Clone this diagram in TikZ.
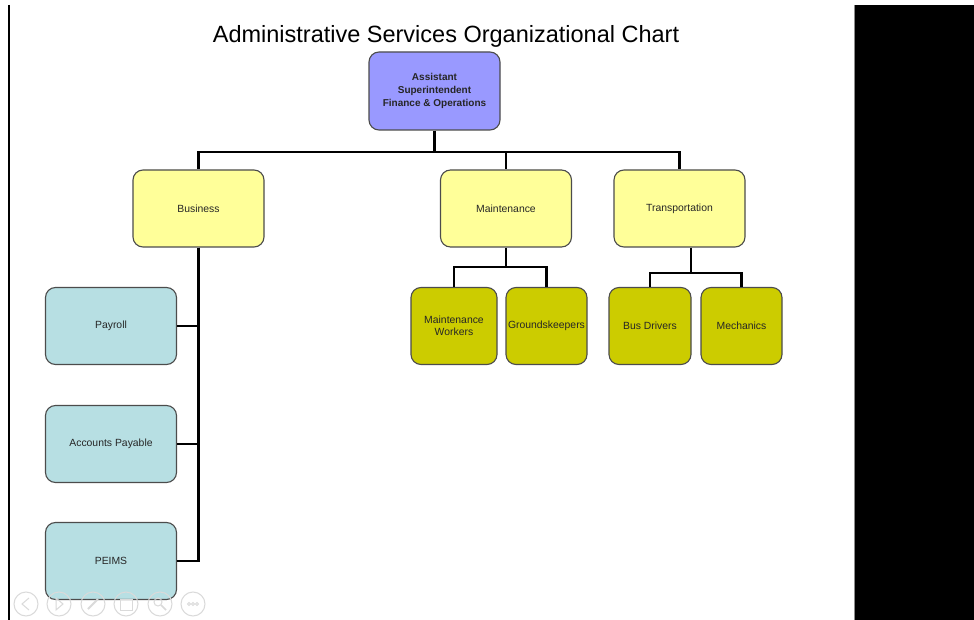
\documentclass[tikz,border=0pt]{standalone}
\usepackage{fontspec}
\setmainfont{Liberation Sans}
\definecolor{headblue}{HTML}{9999FF}
\definecolor{deptyellow}{HTML}{FFFF99}
\definecolor{staffolive}{HTML}{CCCC00}
\definecolor{staffblue}{HTML}{B7DFE3}
\definecolor{navgray}{HTML}{DADADA}
\begin{document}
\begin{tikzpicture}[x={(1pt,0pt)}, y={(0pt,-1pt)}]
  \tikzstyle{unit}=[draw=black!70, line width=1.1pt, rounded corners=10pt, align=center, inner sep=1pt, text=black!85, font=\fontsize{10.4}{12}\selectfont]
  \tikzstyle{dept}=[unit, fill=deptyellow, minimum width=131pt, minimum height=77pt]
  \tikzstyle{crew}=[unit, fill=staffolive, minimum height=77pt]
  \tikzstyle{desk}=[unit, fill=staffblue, minimum width=131pt, minimum height=77pt]
  \tikzstyle{wire}=[line width=2.6pt, black]
  \tikzstyle{navbtn}=[draw=navgray, line width=1pt]

  \useasboundingbox (0,0) rectangle (974,620);
  \fill[white] (0,0) rectangle (974,620);
  \fill[black] (855,5) rectangle (974,620);
  \draw[black!45, line width=1pt] (854.5,5) -- (854.5,620);
  \draw[black, line width=2pt] (8.5,5) -- (8.5,620);

  \node (title) at (446,36) {\fontsize{23.5}{28}\selectfont Administrative Services Organizational Chart};

  \node[unit, fill=headblue, minimum width=131pt, minimum height=78pt, font=\bfseries\fontsize{10}{13}\selectfont] (asst) at (434.5,91) {Assistant\\Superintendent\\Finance \& Operations};

  \node[dept] (biz) at (198.5,208.5) {Business};
  \node[dept] (mnt) at (506,208.5) {Maintenance};
  \node[dept] (trn) at (679.5,208.5) {Transportation};

  \node[crew, minimum width=86pt] (mw) at (454,326) {Maintenance\\Workers};
  \node[crew, minimum width=81pt] (gk) at (546.5,326) {Groundskeepers};
  \node[crew, minimum width=82pt] (bd) at (650,326) {Bus Drivers};
  \node[crew, minimum width=81pt] (mech) at (741.5,326) {Mechanics};

  \node[desk] (pay) at (111,326) {Payroll};
  \node[desk] (ap) at (111,444) {Accounts Payable};
  \node[desk] (peims) at (111,561) {PEIMS};

  \coordinate (aj) at (434.5,152);
  \draw[wire] (asst.south) -- (aj);
  \draw[wire] (aj) -| (biz.north);
  \draw[wire] (aj) -| (mnt.north);
  \draw[wire] (aj) -| (trn.north);

  \draw[wire] (biz.south) |- (pay.east);
  \draw[wire] (biz.south) |- (ap.east);
  \draw[wire] (biz.south) |- (peims.east);

  \coordinate (mj) at (506,267);
  \draw[wire] (mnt.south) -- (mj);
  \draw[wire] (mj) -| (mw.north);
  \draw[wire] (mj) -| (gk.north);

  \coordinate (tj) at (691,273);
  \draw[wire] (tj |- trn.south) -- (tj);
  \draw[wire] (tj) -| (bd.north);
  \draw[wire] (tj) -| (mech.north);

  \foreach \cx in {26,59,93,126,160,193}
    \draw[navbtn] (\cx,604) circle (12);
  \draw[navbtn] (29,598) -- (22,604) -- (29,610);
  \draw[navbtn] (56,598) -- (63,604) -- (56,610) -- cycle;
  \draw[navbtn, line width=2pt] (88,609) -- (98,599);
  \draw[navbtn] (120,599) rectangle (132,610);
  \draw[navbtn] (158,602) circle (4);
  \draw[navbtn, line width=1.6pt] (161,605) -- (166,610);
  \foreach \dx in {-4,0,4}
    \draw[navbtn] (193+\dx,604) circle (1.5);
\end{tikzpicture}
\end{document}
